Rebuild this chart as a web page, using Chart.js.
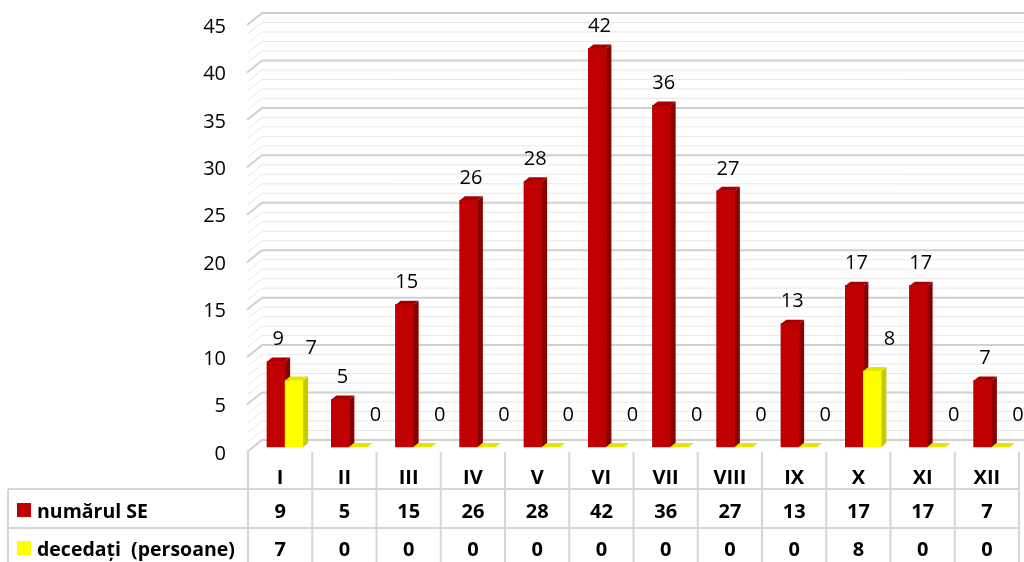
<!DOCTYPE html>
<html>
<head>
<meta charset="utf-8">
<script src="https://cdn.jsdelivr.net/npm/chart.js@4"></script>
<style>
  html, body { margin: 0; padding: 0; background: #fff; }
  canvas { display: block; }
</style>
</head>
<body>
<canvas id="chart" width="1024" height="562"></canvas>
<script>
const months = ["I","II","III","IV","V","VI","VII","VIII","IX","X","XI","XII"];
const numarulSE = [9,5,15,26,28,42,36,27,13,17,17,7];
const decedati = [7,0,0,0,0,0,0,0,0,8,0,0];
const seriesNames = ["numărul SE", "decedați  (persoane)"];
const frontColors = ["#c00000", "#ffff00"];
const sideColors = ["#8a0000", "#c9c900"];
const topColors = ["#a80000", "#e6e600"];
const Y_MIN = 0, Y_MAX = 45, Y_STEP = 5;

const FONT = "'Open Sans', sans-serif";
const DEPTH = { dx: 5, dy: 4 };
const TABLE_SHIFT = -5;

// back wall + left side wall with gridlines (one per unit, darker every 5)
const wall3d = {
  id: "wall3d",
  beforeDatasetsDraw(chart){
    const { ctx, chartArea: a, scales: { y } } = chart;
    const back = a.left + 9, front = a.left - 6;
    ctx.save();
    for (let v = Y_MIN; v <= Y_MAX; v++){
      const py = y.getPixelForValue(v) - 7;
      const major = v % Y_STEP === 0;
      ctx.strokeStyle = major ? "#d0d0d0" : "#e8e8e8";
      ctx.lineWidth = major ? 2 : 1;
      ctx.beginPath();
      ctx.moveTo(front, py + 12);
      ctx.lineTo(back, py);
      ctx.lineTo(a.right, py);
      ctx.stroke();
    }
    ctx.restore();
  }
};

// side and top faces of the bars
const bars3d = {
  id: "bars3d",
  afterDatasetsDraw(chart){
    const ctx = chart.ctx;
    const { dx, dy } = DEPTH;
    ctx.save();
    chart.data.datasets.forEach((ds, di)=>{
      chart.getDatasetMeta(di).data.forEach(el=>{
        const { x, y, base, width } = el.getProps(["x","y","base","width"], true);
        const l = x - width/2, r = x + width/2;
        el.draw(ctx);
        ctx.fillStyle = sideColors[di];
        ctx.beginPath();
        ctx.moveTo(r, y); ctx.lineTo(r+dx, y-dy); ctx.lineTo(r+dx, base-dy); ctx.lineTo(r, base);
        ctx.closePath(); ctx.fill();
        ctx.fillStyle = topColors[di];
        ctx.beginPath();
        ctx.moveTo(l, y); ctx.lineTo(l+dx, y-dy); ctx.lineTo(r+dx, y-dy); ctx.lineTo(r, y);
        ctx.closePath(); ctx.fill();
      });
    });
    ctx.restore();
  }
};

// value labels above the bars
const valueLabels = {
  id: "valueLabels",
  afterDatasetsDraw(chart){
    const ctx = chart.ctx;
    ctx.save();
    ctx.font = "20px " + FONT;
    ctx.fillStyle = "#000";
    ctx.textAlign = "center";
    ctx.textBaseline = "middle";
    chart.data.datasets.forEach((ds, di)=>{
      chart.getDatasetMeta(di).data.forEach((el, i)=>{
        const offX = di === 0 ? 2 : 17;
        const offY = di === 0 ? 22 : 32;
        ctx.fillText(String(ds.data[i]), el.x + offX, el.y - offY);
      });
    });
    ctx.restore();
  }
};

// data table under the plot
const dataTable = {
  id: "dataTable",
  afterDraw(chart){
    const { ctx, chartArea: a, scales: { x } } = chart;
    const step = x.getPixelForValue(1) - x.getPixelForValue(0);
    const cx = i => x.getPixelForValue(i) + TABLE_SHIFT;
    const left = cx(0) - step/2, right = cx(months.length-1) + step/2;
    const top = a.bottom + 5, line1 = a.bottom + 42, line2 = a.bottom + 81, bottom = chart.height;

    ctx.save();
    ctx.strokeStyle = "#d6d6d6";
    ctx.lineWidth = 2;
    ctx.beginPath();
    for (let i = 0; i <= months.length; i++){
      const lx = left + i*step;
      ctx.moveTo(lx, top); ctx.lineTo(lx, bottom);
    }
    ctx.moveTo(8, line1); ctx.lineTo(right, line1);
    ctx.moveTo(8, line2); ctx.lineTo(right, line2);
    ctx.moveTo(8, line1); ctx.lineTo(8, bottom);
    ctx.stroke();

    ctx.fillStyle = "#000";
    ctx.font = "bold 20px " + FONT;
    ctx.textAlign = "center";
    ctx.textBaseline = "middle";
    const rowsY = [a.bottom + 65, a.bottom + 103];
    months.forEach((m, i)=>{
      ctx.fillText(m, cx(i), a.bottom + 31);
      ctx.fillText(String(numarulSE[i]), cx(i), rowsY[0]);
      ctx.fillText(String(decedati[i]), cx(i), rowsY[1]);
    });

    ctx.textAlign = "left";
    ctx.font = "bold 19.5px " + FONT;
    seriesNames.forEach((name, k)=>{
      ctx.fillStyle = frontColors[k];
      ctx.fillRect(17, rowsY[k] - 9, 14, 14);
      ctx.fillStyle = "#000";
      ctx.fillText(name, 37, rowsY[k]);
    });
    ctx.restore();
  }
};

new Chart(document.getElementById("chart"), {
  type: "bar",
  data: {
    labels: months,
    datasets: [
      { label: seriesNames[0], data: numarulSE, backgroundColor: frontColors[0], borderWidth: 0, barThickness: 18 },
      { label: seriesNames[1], data: decedati, backgroundColor: frontColors[1], borderWidth: 0, barThickness: 18 },
    ]
  },
  options: {
    responsive: false,
    animation: false,
    devicePixelRatio: 1,
    layout: { padding: { left: 0, right: 0, top: 20, bottom: 115 } },
    plugins: { legend: { display: false }, tooltip: { enabled: false } },
    scales: {
      x: { display: false },
      y: {
        min: Y_MIN, max: Y_MAX,
        afterFit(scale){ scale.width = 253; scale.paddingTop = 0; scale.paddingBottom = 0; },
        grid: { display: false, drawTicks: false },
        border: { display: false },
        ticks: { stepSize: Y_STEP, padding: 27, labelOffset: 7, color: "#000", font: { family: FONT, size: 20 } }
      }
    }
  },
  plugins: [wall3d, bars3d, valueLabels, dataTable]
});
</script>
</body>
</html>
